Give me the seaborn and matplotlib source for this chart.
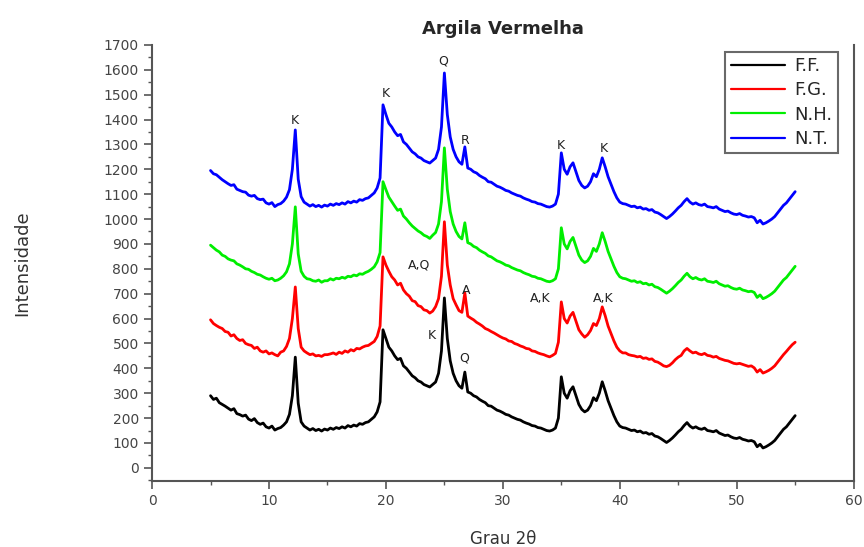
import numpy as np
import pandas as pd
import seaborn as sns
import matplotlib.pyplot as plt
from matplotlib.ticker import MultipleLocator

# grau 2theta, passo 0.25 (5 -> 55)
grau = np.linspace(5, 55, 201)

ff = [290, 275, 280, 262, 255, 248, 240, 232, 238, 218, 214, 208, 212, 196, 190, 198, 182, 175, 180, 165,
      160, 168, 152, 158, 162, 172, 185, 215, 290, 445, 260, 185, 168, 160, 152, 158, 150, 155, 148, 156,
      152, 160, 155, 162, 158, 165, 160, 170, 165, 172, 168, 178, 175, 182, 185, 195, 205, 225, 265, 555,
      520, 485, 470, 450, 435, 440, 410, 400, 385, 370, 362, 350, 345, 335, 330, 325, 335, 345, 380, 470,
      683, 520, 430, 380, 350, 330, 320, 385, 305, 300, 290, 285, 275, 268, 262, 250, 248, 240, 232, 228,
      222, 215, 212, 205, 200, 195, 192, 185, 180, 176, 170, 168, 162, 160, 155, 150, 148, 152, 160, 200,
      366, 300, 280, 310, 326, 290, 255, 235, 225, 232, 250, 282, 270, 300, 346, 310, 270, 240, 210, 185,
      168, 162, 160, 155, 150, 152, 145, 148, 140, 142, 135, 138, 128, 125, 118, 110, 102, 110, 120, 132,
      145, 155, 170, 182, 168, 160, 165, 158, 155, 160, 150, 148, 145, 150, 140, 135, 130, 132, 125, 120,
      118, 122, 115, 112, 108, 110, 105, 85, 95, 80, 85, 92, 100, 110, 125, 140, 155, 165, 180, 195,
      210]

fg = [595, 580, 572, 565, 560, 548, 545, 530, 535, 520, 512, 515, 500, 495, 492, 480, 485, 470, 465, 470,
      458, 462, 455, 450, 465, 470, 488, 520, 600, 727, 560, 485, 470, 462, 455, 458, 450, 452, 448, 455,
      455, 458, 462, 456, 465, 460, 470, 465, 475, 470, 480, 478, 485, 490, 492, 500, 508, 528, 570, 848,
      815, 790, 768, 755, 735, 742, 715, 700, 690, 672, 668, 652, 648, 635, 632, 622, 630, 648, 680, 770,
      989, 815, 735, 680, 655, 632, 625, 703, 610, 602, 595, 585, 578, 570, 560, 555, 548, 542, 535, 528,
      522, 518, 510, 508, 500, 496, 490, 486, 480, 478, 470, 468, 462, 458, 455, 450, 446, 452, 460, 505,
      667, 600, 582, 610, 625, 590, 555, 538, 525, 535, 552, 580, 572, 600, 647, 612, 570, 540, 510, 485,
      470, 462, 462, 455, 452, 450, 446, 448, 440, 442, 436, 438, 428, 425, 418, 410, 407, 412, 422, 435,
      445, 452, 470, 480, 470, 462, 465, 458, 455, 460, 452, 450, 445, 448, 440, 436, 432, 430, 425, 420,
      418, 420, 416, 412, 408, 410, 402, 385, 395, 381, 386, 392, 400, 410, 425, 440, 455, 468, 482, 495,
      505]

nh = [895, 885, 875, 868, 855, 850, 840, 835, 832, 820, 815, 808, 800, 798, 790, 785, 778, 775, 768, 762,
      758, 762, 752, 755, 762, 772, 788, 820, 900, 1049, 860, 790, 770, 760, 758, 752, 750, 755, 746, 752,
      752, 760, 755, 762, 760, 766, 762, 770, 768, 775, 772, 780, 778, 785, 790, 798, 808, 828, 865, 1150,
      1118, 1088, 1070, 1052, 1035, 1040, 1012, 1000, 985, 972, 962, 952, 945, 935, 930, 922, 935, 946, 980, 1070,
      1286, 1120, 1030, 980, 950, 930, 920, 985, 905, 900, 890, 885, 875, 868, 862, 852, 848, 840, 832, 828,
      822, 815, 812, 805, 800, 795, 792, 785, 780, 776, 770, 768, 762, 760, 755, 750, 748, 752, 760, 800,
      965, 900, 880, 910, 926, 890, 855, 835, 825, 832, 850, 882, 870, 900, 945, 910, 870, 840, 810, 785,
      768, 762, 760, 755, 750, 752, 745, 748, 740, 742, 735, 738, 728, 725, 718, 710, 702, 710, 720, 732,
      745, 755, 770, 782, 768, 760, 765, 758, 755, 760, 750, 748, 745, 750, 740, 735, 730, 732, 725, 720,
      718, 722, 715, 712, 708, 710, 705, 685, 695, 680, 685, 692, 700, 710, 725, 740, 755, 765, 780, 795,
      810]

nt = [1195, 1182, 1178, 1168, 1158, 1150, 1142, 1135, 1138, 1120, 1115, 1110, 1108, 1096, 1092, 1095, 1082, 1078, 1080, 1065,
      1060, 1066, 1050, 1058, 1062, 1072, 1088, 1118, 1200, 1358, 1160, 1090, 1068, 1060, 1052, 1058, 1050, 1055, 1048, 1056,
      1052, 1060, 1055, 1062, 1058, 1065, 1060, 1070, 1065, 1072, 1068, 1078, 1075, 1082, 1085, 1095, 1105, 1125, 1165, 1459,
      1420, 1385, 1370, 1350, 1335, 1340, 1310, 1300, 1285, 1270, 1262, 1250, 1245, 1235, 1230, 1225, 1235, 1245, 1280, 1370,
      1587, 1420, 1330, 1280, 1250, 1230, 1220, 1290, 1205, 1200, 1190, 1185, 1175, 1168, 1162, 1150, 1148, 1140, 1132, 1128,
      1122, 1115, 1112, 1105, 1100, 1095, 1092, 1085, 1080, 1076, 1070, 1068, 1062, 1060, 1055, 1050, 1048, 1052, 1060, 1100,
      1266, 1200, 1180, 1210, 1226, 1190, 1155, 1135, 1125, 1132, 1150, 1182, 1170, 1200, 1246, 1210, 1170, 1140, 1110, 1085,
      1068, 1062, 1060, 1055, 1050, 1052, 1045, 1048, 1040, 1042, 1035, 1038, 1028, 1025, 1018, 1010, 1002, 1010, 1020, 1032,
      1045, 1055, 1070, 1082, 1068, 1060, 1065, 1058, 1055, 1060, 1050, 1048, 1045, 1050, 1040, 1035, 1030, 1032, 1025, 1020,
      1018, 1022, 1015, 1012, 1008, 1010, 1005, 985, 995, 980, 985, 992, 1000, 1010, 1025, 1040, 1055, 1065, 1080, 1095,
      1110]

amostras = ['F.F.', 'F.G.', 'N.H.', 'N.T.']
cores = ['#000000', '#ff0000', '#00ee00', '#0000ff']

# rotulos dos picos: (texto, grau, intensidade)
picos = [('K', 12.2, 1395), ('K', 20.0, 1505), ('Q', 24.9, 1635), ('R', 26.8, 1315),
         ('K', 35.0, 1295), ('K', 38.6, 1285), ('A,Q', 22.8, 815), ('A', 26.9, 712),
         ('A,K', 33.2, 680), ('A,K', 38.6, 680), ('K', 23.9, 532), ('Q', 26.7, 440)]

df = pd.DataFrame({'grau': np.tile(grau, 4),
                   'intensidade': ff + fg + nh + nt,
                   'amostra': np.repeat(amostras, len(grau))})

sns.set_style('ticks')
plt.rcParams['font.family'] = ['DejaVu Sans']

fig = plt.figure(figsize=(8.64, 5.47), dpi=100)
ax = fig.add_axes([0.176, 0.121, 0.812, 0.797])

sns.lineplot(data=df, x='grau', y='intensidade', hue='amostra', palette=cores,
             hue_order=amostras, lw=2.0, ax=ax)

for txt, gx, gy in picos:
    ax.text(gx, gy, txt, ha='center', va='center', fontsize=9, color='#222222')

ax.set_xlim(0, 60)
ax.set_ylim(-52, 1700)
ax.xaxis.set_major_locator(MultipleLocator(10))
ax.xaxis.set_minor_locator(MultipleLocator(5))
ax.yaxis.set_major_locator(MultipleLocator(100))
ax.yaxis.set_minor_locator(MultipleLocator(50))
ax.tick_params(which='major', length=6, width=1.2, colors='#555555', labelsize=10)
ax.tick_params(which='minor', length=3, width=1.0, colors='#555555')
ax.tick_params(axis='y', labelcolor='#444444')
ax.tick_params(axis='x', labelcolor='#444444')

for s in ['left', 'bottom', 'right']:
    ax.spines[s].set_color('#555555')
    ax.spines[s].set_linewidth(1.5)
ax.spines['top'].set_visible(False)

ax.set_xlabel('Grau 2θ', fontsize=12, color='#333333', labelpad=16)
ax.set_ylabel('Intensidade', fontsize=13, color='#333333', labelpad=52)
ax.set_title('Argila Vermelha', fontsize=13, fontweight='bold', pad=8)

leg = ax.legend(loc='upper right', bbox_to_anchor=(0.99, 1.005), fontsize=13,
                frameon=True, fancybox=False, edgecolor='#444444',
                handlelength=3.0, handletextpad=0.5, borderpad=0.3, labelspacing=0.35)
leg.get_frame().set_linewidth(1.5)
for h in leg.get_lines():
    h.set_linewidth(1.6)

fig.savefig('out.png', dpi=100)
